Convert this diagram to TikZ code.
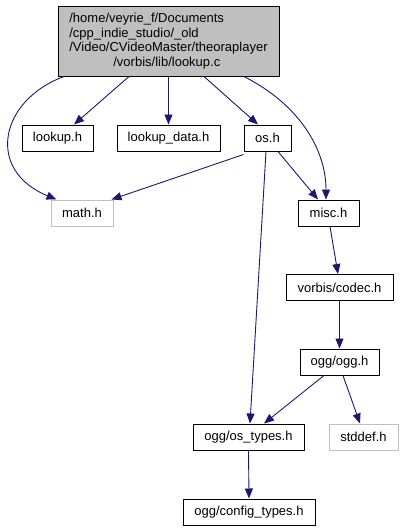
\documentclass[tikz,border=0pt]{standalone}
\usepackage{fontspec}
\setmainfont{Liberation Sans}
\usetikzlibrary{arrows.meta,calc}
\definecolor{edgec}{RGB}{25,25,112}
\definecolor{rootfill}{RGB}{191,191,191}
\definecolor{grayb}{RGB}{191,191,191}
\begin{document}
\begin{tikzpicture}[x=1pt,y=-1pt,
  box/.style={draw=black,line width=1pt,inner sep=0pt,minimum height=26pt,font=\fontsize{13}{14.7}\selectfont},
  gbox/.style={box,draw=grayb},
  edge/.style={draw=edgec,line width=0.9pt,-{Triangle[length=10pt,width=8pt]}}]
\useasboundingbox (0,0) rectangle (404,531);
\node[box,fill=rootfill,minimum width=221pt,minimum height=70pt,align=left] (root) at (168.5,41)
  {/home/veyrie\_f/Documents\\/cpp\_indie\_studio/\_old\\/Video/CVideoMaster/theoraplayer\\\hspace*{44pt}/vorbis/lib/lookup.c};
\node[box,minimum width=71pt] (lookup) at (57.5,138) {lookup.h};
\node[box,minimum width=103pt] (ldata) at (168.5,138) {lookup\_data.h};
\node[box,minimum width=47pt] (os) at (267.5,138) {os.h};
\node[gbox,minimum width=62pt] (math) at (82,213) {math.h};
\node[box,minimum width=61pt] (misc) at (328.5,213) {misc.h};
\node[box,minimum width=107pt] (codec) at (339.5,287.5) {vorbis/codec.h};
\node[box,minimum width=79pt] (ogg) at (339.5,362) {ogg/ogg.h};
\node[box,minimum width=111pt] (ostypes) at (248.5,437) {ogg/os\_types.h};
\node[gbox,minimum width=69pt] (stddef) at (363.5,437) {stddef.h};
\node[box,minimum width=132pt] (config) at (249,512) {ogg/config\_types.h};

\draw[edge] ([xshift=-104.5pt]root.south) .. controls (0,100) and (-15,170) .. ([xshift=6pt]math.north west);
\draw[edge] ([xshift=-39.5pt]root.south) -- ([xshift=16.5pt]lookup.north);
\draw[edge] (root.south) -- (ldata.north);
\draw[edge] ([xshift=35.5pt]root.south) -- ([xshift=-9.5pt]os.north);
\draw[edge] ([xshift=75.5pt]root.south) .. controls (300,105) and (326,150) .. ([xshift=-2.5pt]misc.north);
\draw[edge] ([yshift=-3pt]os.south west) -- ([xshift=-2pt]math.north east);
\draw[edge] ([xshift=10.5pt]os.south) -- ([xshift=-10.5pt]misc.north);
\draw[edge] ([xshift=-1.5pt]os.south) -- ([xshift=1.5pt]ostypes.north);
\draw[edge] ([xshift=1.5pt]misc.south) -- ([xshift=-1.5pt]codec.north);
\draw[edge] (codec.south) -- (ogg.north);
\draw[edge] ([xshift=-15.5pt]ogg.south) -- ([xshift=15.5pt]ostypes.north);
\draw[edge] ([xshift=3.5pt]ogg.south) -- ([xshift=-3.5pt]stddef.north);
\draw[edge] (ostypes.south) -- (config.north);
\end{tikzpicture}
\end{document}
